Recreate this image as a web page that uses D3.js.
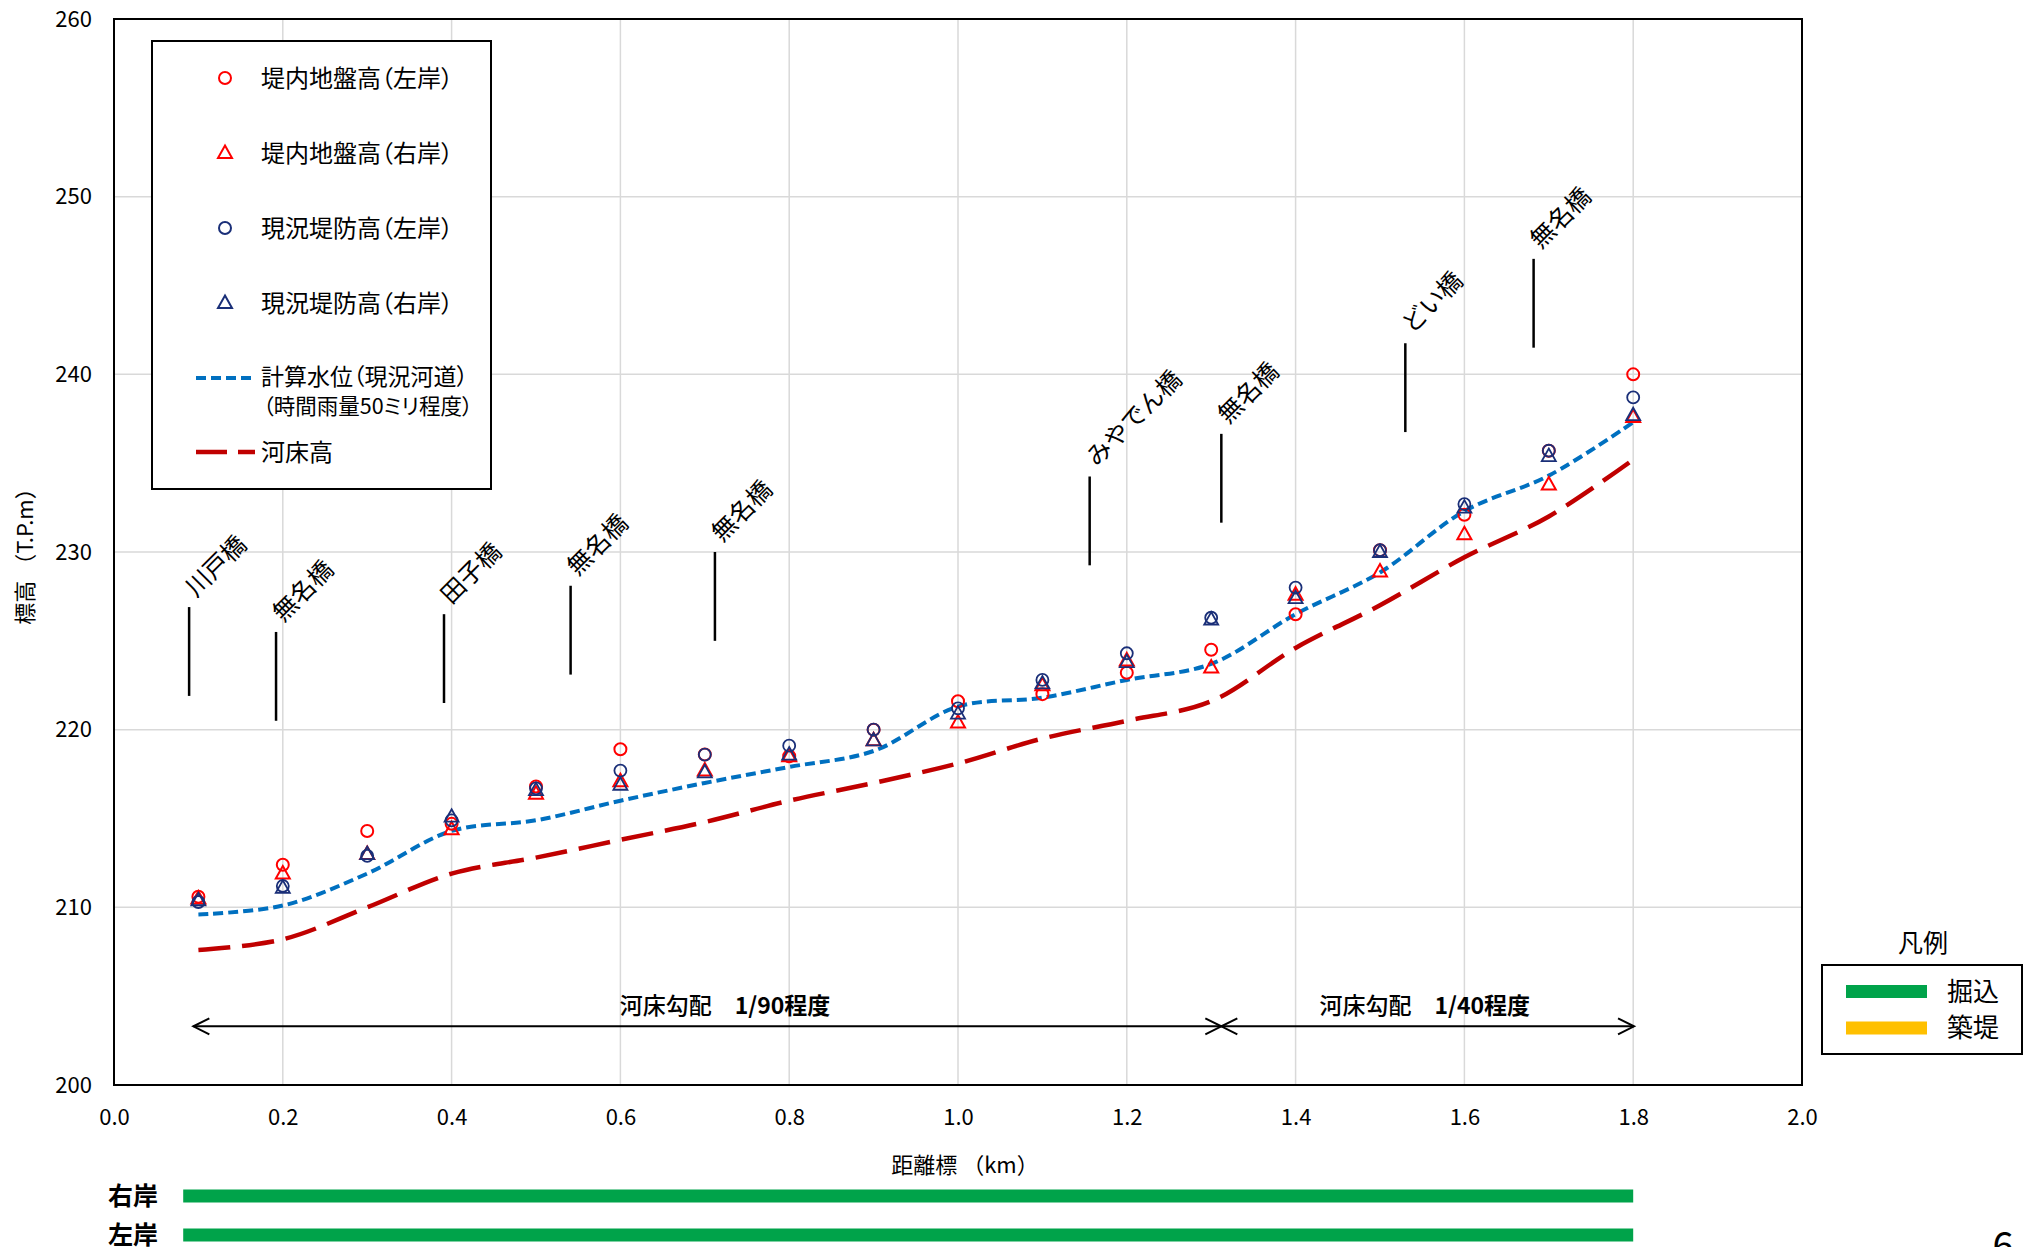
<!DOCTYPE html>
<html>
<head>
<meta charset="utf-8">
<script src="https://cdn.jsdelivr.net/npm/d3@7"></script>
<style>
  html, body { margin: 0; padding: 0; background: #fff; }
  svg { display: block; font-family: "Noto Sans CJK JP", "Noto Sans", sans-serif; }
  .palt { font-feature-settings: "palt"; }
</style>
</head>
<body>
<svg id="chart" width="2031" height="1247"></svg>
<script>
// --- Data ---
const distances = [0.1, 0.2, 0.3, 0.4, 0.5, 0.6, 0.7, 0.8, 0.9, 1.0, 1.1, 1.2, 1.3, 1.4, 1.5, 1.6, 1.7, 1.8];

const groundLeft  = [210.6, 212.4, 214.3, 214.7, 216.8, 218.9, 218.6, 218.5, 220.0, 221.6, 222.0, 223.2, 224.5, 226.5, 230.1, 232.1, 235.7, 240.0];
const groundRight = [210.5, 211.9, 213.0, 214.4, 216.4, 217.1, 217.7, 218.5, 219.4, 220.4, 222.5, 223.9, 223.5, 227.6, 228.9, 231.0, 233.8, 237.6];
const leveeLeft   = [210.3, 211.2, 212.9, 214.9, 216.7, 217.7, 218.6, 219.1, 220.0, 221.2, 222.8, 224.3, 226.3, 228.0, 230.1, 232.7, 235.7, 238.7];
const leveeRight  = [210.4, 211.1, 213.0, 215.1, 216.6, 216.9, 217.6, 218.6, 219.4, 220.9, 222.6, 223.8, 226.2, 227.4, 230.0, 232.5, 235.4, 237.7];

const waterLevel  = [209.6, 210.1, 211.9, 214.3, 214.9, 216.0, 217.0, 217.9, 218.8, 221.3, 221.8, 222.8, 223.7, 226.5, 228.85, 232.3, 234.3, 237.3];
const riverBed    = [207.6, 208.2, 210.0, 211.9, 212.8, 213.8, 214.8, 216.0, 217.0, 218.1, 219.5, 220.5, 221.6, 224.6, 227.0, 229.7, 232.0, 235.2];

const bridgeNames = ['川戸橋', '無名橋', '田子橋', '無名橋', '無名橋', 'みやでん橋', '無名橋', 'どい橋', '無名橋'];
const bridgeKm    = [0.089, 0.192, 0.391, 0.541, 0.712, 1.156, 1.312, 1.530, 1.682];
const bridgeTop   = [226.9, 225.5, 226.5, 228.1, 230.0, 234.25, 236.65, 241.75, 246.5];

const slopeNames  = ['河床勾配', '河床勾配'];
const slopeRatios = ['1/90', '1/40'];
const slopeFrom   = [0.094, 1.312];
const slopeTo     = [1.312, 1.801];
const slopeTextAt = [0.724, 1.553];
const slopeLevel  = 203.3;

const bankNames = ['右岸', '左岸'];
const bankFrom  = [0.082, 0.082];
const bankTo    = [1.8, 1.8];
const bankType  = ['掘込', '掘込'];

const xTicks = [0.0, 0.2, 0.4, 0.6, 0.8, 1.0, 1.2, 1.4, 1.6, 1.8, 2.0];
const yTicks = [200, 210, 220, 230, 240, 250, 260];

// --- Setup ---
const RED = '#ff0000', NAVY = '#1a2f78', BLUE = '#0070c0', DRED = '#c00000';
const GREEN = '#00a34a', YELLOW = '#ffc000', GRID = '#d9d9d9';

const svg = d3.select('#chart');
const L = 114, R = 1802, T = 19, B = 1085;
const x = d3.scaleLinear().domain([0, 2]).range([L, R]);
const y = d3.scaleLinear().domain([200, 260]).range([B, T]);

// --- Grid ---
const grid = svg.append('g');
grid.selectAll('line.gx').data(xTicks.slice(1, -1)).join('line')
    .attr('x1', d => x(d)).attr('x2', d => x(d))
    .attr('y1', T).attr('y2', B)
    .attr('stroke', GRID).attr('stroke-width', 1.5);
grid.selectAll('line.gy').data(yTicks.slice(1, -1)).join('line')
    .attr('x1', L).attr('x2', R)
    .attr('y1', d => y(d)).attr('y2', d => y(d))
    .attr('stroke', GRID).attr('stroke-width', 1.5);

// --- Axes ---
const xAxis = svg.append('g')
    .attr('transform', `translate(0,${B})`)
    .call(d3.axisBottom(x).tickValues(xTicks).tickFormat(d3.format('.1f')).tickSize(0).tickPadding(28));
const yAxis = svg.append('g')
    .attr('transform', `translate(${L},0)`)
    .call(d3.axisLeft(y).tickValues(yTicks).tickSize(0).tickPadding(22));
[xAxis, yAxis].forEach(a => {
    a.select('.domain').remove();
    a.selectAll('text').attr('font-size', 22).attr('fill', '#000')
        .attr('font-family', '"Noto Sans CJK JP", sans-serif');
});
xAxis.selectAll('text').attr('dy', '0.55em');

svg.append('rect')
    .attr('x', L).attr('y', T).attr('width', R - L).attr('height', B - T)
    .attr('fill', 'none').attr('stroke', '#000').attr('stroke-width', 2);

svg.append('text')
    .attr('x', 965).attr('y', 1173)
    .attr('text-anchor', 'middle').attr('font-size', 22)
    .text('距離標 （km）');

svg.append('text')
    .attr('transform', `translate(33,551) rotate(-90)`)
    .attr('text-anchor', 'middle').attr('font-size', 22)
    .text('標高 （T.P.m）');

// --- Lines ---
const line = vals => d3.line()
    .x((d, i) => x(distances[i]))
    .y(d => y(d))
    .curve(d3.curveCatmullRom.alpha(0.5))(vals);

svg.append('path').attr('d', line(riverBed))
    .attr('fill', 'none').attr('stroke', DRED).attr('stroke-width', 4.5)
    .attr('stroke-dasharray', '32,12');
svg.append('path').attr('d', line(waterLevel))
    .attr('fill', 'none').attr('stroke', BLUE).attr('stroke-width', 4)
    .attr('stroke-dasharray', '10,5');

// --- Markers ---
const triPath = 'M0,-7.5L7,5L-7,5Z';
function drawMarkers(vals, shape, color, width) {
    const g = svg.append('g');
    if (shape === 'circle') {
        g.selectAll('circle').data(vals).join('circle')
            .attr('cx', (d, i) => x(distances[i])).attr('cy', d => y(d))
            .attr('r', 6).attr('fill', 'none')
            .attr('stroke', color).attr('stroke-width', width);
    } else {
        g.selectAll('path').data(vals).join('path')
            .attr('transform', (d, i) => `translate(${x(distances[i])},${y(d)})`)
            .attr('d', triPath).attr('fill', 'none')
            .attr('stroke', color).attr('stroke-width', width);
    }
}
drawMarkers(groundLeft, 'circle', RED, 2);
drawMarkers(groundRight, 'tri', RED, 2);
drawMarkers(leveeLeft, 'circle', NAVY, 1.8);
drawMarkers(leveeRight, 'tri', NAVY, 1.8);

// --- Bridges ---
const bridges = svg.append('g');
bridgeNames.forEach((name, i) => {
    const bx = x(bridgeKm[i]);
    bridges.append('line')
        .attr('x1', bx).attr('x2', bx)
        .attr('y1', y(bridgeTop[i])).attr('y2', y(bridgeTop[i] - 5))
        .attr('stroke', '#000').attr('stroke-width', 2.5);
    bridges.append('text')
        .attr('transform', `translate(${bx + 7},${y(bridgeTop[i]) - 9}) rotate(-45)`)
        .attr('font-size', 24.5)
        .text(name);
});

// --- Slope arrows ---
const arrows = svg.append('g').attr('stroke', '#000').attr('fill', 'none').attr('stroke-width', 2);
const ay = y(slopeLevel);
slopeNames.forEach((name, i) => {
    const x0 = x(slopeFrom[i]), x1 = x(slopeTo[i]);
    arrows.append('line').attr('x1', x0).attr('x2', x1).attr('y1', ay).attr('y2', ay);
    arrows.append('path').attr('d', `M${x0 + 16},${ay - 8}L${x0},${ay}L${x0 + 16},${ay + 8}`);
    arrows.append('path').attr('d', `M${x1 - 16},${ay - 8}L${x1},${ay}L${x1 - 16},${ay + 8}`);
    const t = svg.append('text')
        .attr('x', x(slopeTextAt[i])).attr('y', ay - 12)
        .attr('text-anchor', 'middle').attr('font-size', 23).attr('font-weight', 500);
    t.append('tspan').text(name + '　');
    t.append('tspan').attr('font-weight', 700).text(slopeRatios[i] + '程度');
});

// --- Main legend ---
const lg = svg.append('g');
lg.append('rect').attr('x', 152).attr('y', 41).attr('width', 339).attr('height', 448)
    .attr('fill', '#fff').attr('stroke', '#000').attr('stroke-width', 2);
const legendItems = [
    { label: '堤内地盤高（左岸）', shape: 'circle', color: RED, y: 78 },
    { label: '堤内地盤高（右岸）', shape: 'tri', color: RED, y: 153 },
    { label: '現況堤防高（左岸）', shape: 'circle', color: NAVY, y: 228 },
    { label: '現況堤防高（右岸）', shape: 'tri', color: NAVY, y: 303 },
];
legendItems.forEach(it => {
    if (it.shape === 'circle') {
        lg.append('circle').attr('cx', 225).attr('cy', it.y).attr('r', 6)
            .attr('fill', 'none').attr('stroke', it.color).attr('stroke-width', 2);
    } else {
        lg.append('path').attr('transform', `translate(225,${it.y})`).attr('d', triPath)
            .attr('fill', 'none').attr('stroke', it.color).attr('stroke-width', 2);
    }
    lg.append('text').attr('class', 'palt').attr('x', 261).attr('y', it.y).attr('dy', '0.36em')
        .attr('font-size', 24).text(it.label);
});
lg.append('line').attr('x1', 196).attr('x2', 252).attr('y1', 378).attr('y2', 378)
    .attr('stroke', BLUE).attr('stroke-width', 4).attr('stroke-dasharray', '10,5');
lg.append('text').attr('class', 'palt').attr('x', 261).attr('y', 377).attr('dy', '0.36em')
    .attr('font-size', 23).text('計算水位（現況河道）');
lg.append('text').attr('class', 'palt').attr('x', 263).attr('y', 406).attr('dy', '0.36em')
    .attr('font-size', 21.5).text('（時間雨量50ミリ程度）');
lg.append('line').attr('x1', 196).attr('x2', 255).attr('y1', 452).attr('y2', 452)
    .attr('stroke', DRED).attr('stroke-width', 4.5).attr('stroke-dasharray', '31,11');
lg.append('text').attr('class', 'palt').attr('x', 261).attr('y', 452).attr('dy', '0.36em')
    .attr('font-size', 24).text('河床高');

// --- Bank bars ---
const bankColor = { '掘込': GREEN, '築堤': YELLOW };
const bankY = [1196, 1235];
bankNames.forEach((name, i) => {
    svg.append('rect')
        .attr('x', x(bankFrom[i])).attr('y', bankY[i] - 6.5)
        .attr('width', x(bankTo[i]) - x(bankFrom[i])).attr('height', 13)
        .attr('fill', bankColor[bankType[i]]);
    svg.append('text')
        .attr('x', 108).attr('y', bankY[i]).attr('dy', '0.36em')
        .attr('font-size', 25).attr('font-weight', 700)
        .text(name);
});

// --- Bank legend ---
const bl = svg.append('g');
bl.append('text').attr('x', 1923).attr('y', 943).attr('dy', '0.36em')
    .attr('text-anchor', 'middle').attr('font-size', 25).text('凡例');
bl.append('rect').attr('x', 1822).attr('y', 965).attr('width', 200).attr('height', 89)
    .attr('fill', '#fff').attr('stroke', '#000').attr('stroke-width', 2);
[['掘込', 991.5], ['築堤', 1028]].forEach(([k, yy]) => {
    bl.append('rect').attr('x', 1846).attr('y', yy - 6.5).attr('width', 81).attr('height', 13)
        .attr('fill', bankColor[k]);
    bl.append('text').attr('x', 1947).attr('y', yy).attr('dy', '0.36em')
        .attr('font-size', 26).text(k);
});

// page number
svg.append('text').attr('x', 2003).attr('y', 1259).attr('text-anchor', 'middle')
    .attr('font-size', 38).text('6');
</script>
</body>
</html>
